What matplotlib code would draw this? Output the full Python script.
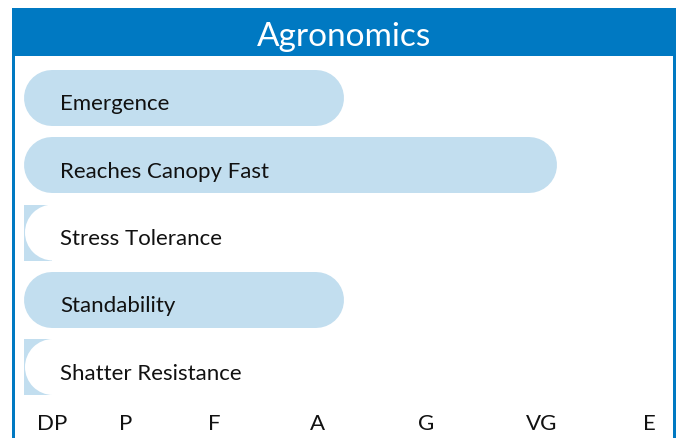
import matplotlib
matplotlib.use('Agg')
import matplotlib.pyplot as plt
import matplotlib.transforms as mtransforms
from matplotlib.patches import Rectangle, Ellipse

# ---------------------------------------------------------------------------
# Data
# ---------------------------------------------------------------------------
traits = ['Emergence', 'Reaches Canopy Fast', 'Stress Tolerance',
          'Standability', 'Shatter Resistance']
scores = [3, 5, 0, 3, 0]          # index into rating_labels
rating_labels = ['DP', 'P', 'F', 'A', 'G', 'VG', 'E']
title = 'Agronomics'

# ---------------------------------------------------------------------------
# Style / layout (pixel-based figure of 677 x 438)
# ---------------------------------------------------------------------------
W, H = 677, 438
HDR_BLUE = '#0079C2'
BAR_C = '#C2DEEF'
FONT = 'Lato'

PX0 = 23.5        # pixel of score 0
UNIT = 106.7      # pixels per score step
ROW0 = 98.0       # pixel of first row centre
ROW_STEP = 67.25  # pixels between rows
BAR_H = 56.0      # bar height in pixels
R_PX = BAR_H / 2
tick_pos = [0.264, 0.96, 1.79, 2.755, 3.77, 4.86, 5.87]  # label centres in score units

fig = plt.figure(figsize=(W / 100, H / 100), dpi=100)
fig.patch.set_facecolor('white')
ax = fig.add_axes([0, 0, 1, 1])
ax.set_xlim(-PX0 / UNIT, (W - PX0) / UNIT)
ax.set_ylim((H - ROW0) / ROW_STEP, -ROW0 / ROW_STEP)
ax.axis('off')

# pixel transform (y down) for the frame
px = mtransforms.Affine2D().scale(1 / W, -1 / H).translate(0, 1) + fig.transFigure

# frame + header
ax.add_patch(Rectangle((12, 8), 664, 48, transform=px, facecolor=HDR_BLUE,
                       edgecolor='none', zorder=1, clip_on=False))
ax.add_patch(Rectangle((12, 8), 3, H, transform=px, facecolor=HDR_BLUE,
                       edgecolor='none', zorder=1, clip_on=False))
ax.add_patch(Rectangle((673, 8), 3, H, transform=px, facecolor=HDR_BLUE,
                       edgecolor='none', zorder=1, clip_on=False))
ax.text(344, 45.5, title, transform=px, ha='center', va='baseline',
        fontsize=24, color='white', family=FONT, zorder=5)

# bars
r_x = R_PX / UNIT
r_y = R_PX / ROW_STEP
lw_pt = BAR_H * 72 / 100
for i, (name, v) in enumerate(zip(traits, scores)):
    if v > 0:
        ax.plot([r_x, v - r_x], [i, i], color=BAR_C, lw=lw_pt,
                solid_capstyle='round', zorder=2)
    else:
        ax.add_patch(Rectangle((0, i - r_y), r_x, 2 * r_y, facecolor=BAR_C,
                               edgecolor='none', zorder=2))
        ax.add_patch(Ellipse((r_x + 1.5 / UNIT, i), 2 * r_x, 2 * r_y,
                             facecolor='white', edgecolor='none', zorder=3))
    ax.text((60 - PX0) / UNIT, i + 12.5 / ROW_STEP, name, ha='left',
            va='baseline', fontsize=16, color='#111111', family=FONT, zorder=4)

# rating scale
for x, lab in zip(tick_pos, rating_labels):
    ax.text(x, (430.5 - ROW0) / ROW_STEP, lab, ha='center', va='baseline',
            fontsize=16, color='#111111', family=FONT, zorder=4)

fig.savefig('out.png', dpi=100, facecolor='white')
plt.close(fig)
